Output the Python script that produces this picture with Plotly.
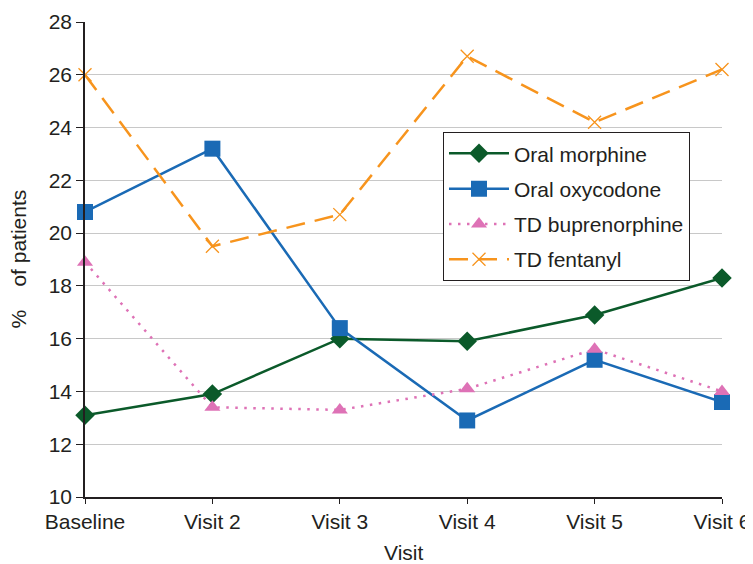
import plotly.graph_objects as go

categories = ["Baseline", "Visit 2", "Visit 3", "Visit 4", "Visit 5", "Visit 6"]
oral_morphine = [13.1, 13.9, 16.0, 15.9, 16.9, 18.3]
oral_oxycodone = [20.8, 23.2, 16.4, 12.9, 15.2, 13.6]
td_buprenorphine = [18.9, 13.4, 13.3, 14.1, 15.6, 14.0]
td_fentanyl = [26.0, 19.5, 20.7, 26.7, 24.2, 26.2]
y_ticks = [10, 12, 14, 16, 18, 20, 22, 24, 26, 28]

xpos = list(range(len(categories)))
FONT = "Liberation Sans, Arial, sans-serif"
FS = 21

fig = go.Figure()
fig.add_trace(go.Scatter(
    x=xpos, y=oral_morphine, name="Oral morphine", mode="lines+markers",
    legendgroup="a",
    line=dict(color="#0b5a2a", width=2.5),
    marker=dict(symbol="diamond", size=15, color="#0b5a2a"),
    cliponaxis=False))
fig.add_trace(go.Scatter(
    x=xpos, y=oral_oxycodone, name="Oral oxycodone", mode="lines+markers",
    legendgroup="b",
    line=dict(color="#1a6ab5", width=2.5),
    marker=dict(symbol="square", size=16, color="#1a6ab5"),
    cliponaxis=False))
fig.add_trace(go.Scatter(
    x=xpos, y=td_buprenorphine, name="TD buprenorphine", mode="lines+markers",
    legendgroup="c",
    line=dict(color="#de72b6", width=2.5, dash="2.5px,6.5px"),
    marker=dict(symbol="triangle-up", size=14, color="#de72b6"),
    cliponaxis=False))
fig.add_trace(go.Scatter(
    x=xpos, y=td_fentanyl, name="TD fentanyl", mode="lines+markers",
    legendgroup="d",
    line=dict(color="#f7941d", width=2.5, dash="19px,10px"),
    marker=dict(symbol="x-thin-open", size=13, color="#f7941d",
                line=dict(color="#f7941d", width=1.3)),
    cliponaxis=False))

fig.update_layout(
    width=745, height=556,
    margin=dict(l=77, r=31, t=14, b=67, autoexpand=False),
    paper_bgcolor="white", plot_bgcolor="white",
    font=dict(family=FONT, size=FS, color="#231f20"),
    showlegend=True,
    legend=dict(x=0.562, y=0.768, xanchor="left", yanchor="top",
                bgcolor="white", bordercolor="#231f20", borderwidth=1,
                font=dict(size=FS, family=FONT), traceorder="grouped",
                tracegroupgap=5, itemwidth=60),
    xaxis=dict(range=[0, 5], tickmode="array", tickvals=xpos, ticktext=categories,
               showgrid=False, zeroline=False, showline=True, linecolor="#231f20",
               linewidth=1.5, ticks="outside", ticklen=5, tickcolor="#231f20",
               automargin=False, tickfont=dict(size=FS)),
    yaxis=dict(range=[10, 28], tickmode="array", tickvals=y_ticks,
               ticksuffix="\u00a0",
               showgrid=True, gridcolor="#c8c8c8", gridwidth=1.2, zeroline=False,
               showline=True, linecolor="#231f20", linewidth=1.5,
               ticks="outside", ticklen=7, tickcolor="#231f20",
               automargin=False, tickfont=dict(size=FS)),
    annotations=[
        dict(text="Visit", xref="paper", yref="paper", x=0.5, y=-0.116,
             xanchor="center", yanchor="middle", showarrow=False,
             font=dict(size=FS, family=FONT, color="#231f20")),
        dict(text="%\u00a0\u00a0\u00a0\u00a0of patients", xref="paper", yref="paper",
             x=-0.105, y=0.5, xanchor="center", yanchor="middle", textangle=-90,
             showarrow=False, font=dict(size=FS, family=FONT, color="#231f20")),
    ],
)

fig.write_html("out.html")
